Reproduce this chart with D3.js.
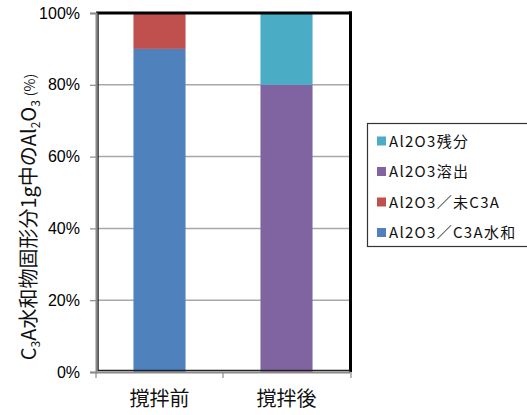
<!DOCTYPE html>
<html>
<head>
<meta charset="utf-8">
<script src="https://cdn.jsdelivr.net/npm/d3@7"></script>
<style>
  html, body { margin: 0; padding: 0; background: #fff; }
  svg { display: block; }
</style>
</head>
<body>
<svg id="chart" width="527" height="415"></svg>
<script>
// Categories and stacked series values (% of Al2O3 per 1 g of C3A hydrate solids)
const categories = ["撹拌前", "撹拌後"];
const seriesNames = ["Al2O3／C3A水和", "Al2O3／未C3A", "Al2O3溶出", "Al2O3残分"];
const hydrated   = [90, 0];
const unreacted  = [10, 0];
const dissolved  = [0, 80];
const residual   = [0, 20];
const seriesColors = ["#4F81BD", "#C0504D", "#8064A2", "#4BACC6"];
const yTicks = [0, 20, 40, 60, 80, 100];

const rows = categories.map((c, i) => ({
  cat: c,
  [seriesNames[0]]: hydrated[i],
  [seriesNames[1]]: unreacted[i],
  [seriesNames[2]]: dissolved[i],
  [seriesNames[3]]: residual[i]
}));

const svg = d3.select("#chart");
const plot = { left: 96, right: 350, top: 13, bottom: 372 };

const x = d3.scaleBand()
  .domain(categories)
  .range([plot.left, plot.right])
  .paddingInner(0.59)
  .paddingOuter(0.295);

const y = d3.scaleLinear().domain([0, 100]).range([plot.bottom, plot.top]);

const color = d3.scaleOrdinal().domain(seriesNames).range(seriesColors);

// gridlines
svg.append("g")
  .selectAll("line")
  .data(yTicks.filter(t => t > 0 && t < 100))
  .join("line")
  .attr("x1", plot.left).attr("x2", plot.right)
  .attr("y1", d => y(d)).attr("y2", d => y(d))
  .attr("stroke", "#a8a8a8").attr("stroke-width", 1.5);

// stacked bars
const stacked = d3.stack().keys(seriesNames)(rows);
svg.append("g")
  .selectAll("g")
  .data(stacked)
  .join("g")
  .attr("fill", d => color(d.key))
  .selectAll("rect")
  .data(d => d)
  .join("rect")
  .attr("x", d => x(d.data.cat))
  .attr("width", x.bandwidth())
  .attr("y", d => y(d[1]))
  .attr("height", d => y(d[0]) - y(d[1]));

// plot frame: heavy top/right edge, lighter left/bottom axes
svg.append("line")
  .attr("x1", plot.left).attr("x2", plot.right + 2)
  .attr("y1", plot.top).attr("y2", plot.top)
  .attr("stroke", "#000").attr("stroke-width", 3);
svg.append("line")
  .attr("x1", plot.right + 0.5).attr("x2", plot.right + 0.5)
  .attr("y1", plot.top - 1.5).attr("y2", plot.bottom)
  .attr("stroke", "#000").attr("stroke-width", 3);
svg.append("line")
  .attr("x1", plot.left + 2).attr("x2", plot.left + 2)
  .attr("y1", plot.top).attr("y2", plot.bottom - 1)
  .attr("stroke", "#222").attr("stroke-width", 1.5);
svg.append("line")
  .attr("x1", plot.left + 2).attr("x2", plot.right)
  .attr("y1", plot.bottom - 1.5).attr("y2", plot.bottom - 1.5)
  .attr("stroke", "#222").attr("stroke-width", 1.5);

// y axis
const yAxis = d3.axisLeft(y)
  .tickValues(yTicks)
  .tickSize(6)
  .tickPadding(10)
  .tickFormat(d => d + "%");
const gy = svg.append("g")
  .attr("transform", `translate(${plot.left},0)`)
  .call(yAxis);
gy.select(".domain").attr("stroke", "#8a8a8a").attr("stroke-width", 2);
gy.selectAll(".tick line").attr("stroke", "#8a8a8a").attr("stroke-width", 1.2);
gy.selectAll(".tick text")
  .attr("fill", "#000")
  .style("font-family", "'Liberation Sans', Arial, sans-serif")
  .style("font-size", "16px");

// x axis
const xAxis = d3.axisBottom(x).tickSize(0).tickPadding(0);
const gx = svg.append("g")
  .attr("transform", `translate(0,${plot.bottom})`)
  .call(xAxis);
gx.select(".domain").attr("stroke", "#8a8a8a").attr("stroke-width", 2);
gx.selectAll(".tick text")
  .attr("fill", "#111")
  .attr("y", 34)
  .attr("dy", 0)
  .style("font-family", "'Noto Sans CJK JP', sans-serif")
  .style("font-size", "20px");
// category boundary ticks
const bounds = [plot.left, plot.left + x.step(), plot.right + 1];
gx.selectAll(".bound")
  .data(bounds)
  .join("line")
  .attr("class", "bound")
  .attr("x1", d => d).attr("x2", d => d)
  .attr("y1", 0).attr("y2", 6)
  .attr("stroke", "#8a8a8a").attr("stroke-width", 1.2);

// y axis title
const title = svg.append("text")
  .attr("transform", "translate(36,217) rotate(-90)")
  .attr("text-anchor", "middle")
  .attr("fill", "#111")
  .style("font-family", "'Noto Sans CJK JP', sans-serif")
  .style("font-size", "20px");
title.append("tspan").text("C");
title.append("tspan").text("3").style("font-size", "12px").attr("dy", 4);
title.append("tspan").text("A水和物固形分1g中のAl").attr("dy", -4);
title.append("tspan").text("2").style("font-size", "12px").attr("dy", 4);
title.append("tspan").text("O").attr("dy", -4);
title.append("tspan").text("3").style("font-size", "12px").attr("dy", 4);
title.append("tspan").text("(%)").style("font-size", "14px").attr("dx", 4).attr("dy", -5);

// legend
const legend = svg.append("g");
legend.append("rect")
  .attr("x", 367.5).attr("y", 123.5)
  .attr("width", 162).attr("height", 123)
  .attr("fill", "#fff").attr("stroke", "#333").attr("stroke-width", 1.2);
const legendOrder = seriesNames.slice().reverse();
const items = legend.selectAll(".item")
  .data(legendOrder)
  .join("g")
  .attr("class", "item")
  .attr("transform", (d, i) => `translate(377,${141.5 + i * 30.5})`);
items.append("rect")
  .attr("x", 0).attr("y", -5)
  .attr("width", 9).attr("height", 9)
  .attr("fill", d => color(d));
items.append("text")
  .attr("x", 12).attr("y", 0)
  .attr("dy", "0.36em")
  .attr("fill", "#111")
  .style("font-family", "'Noto Sans CJK JP', sans-serif")
  .style("font-size", "15px")
  .style("letter-spacing", "1.3px")
  .text(d => d);
</script>
</body>
</html>
